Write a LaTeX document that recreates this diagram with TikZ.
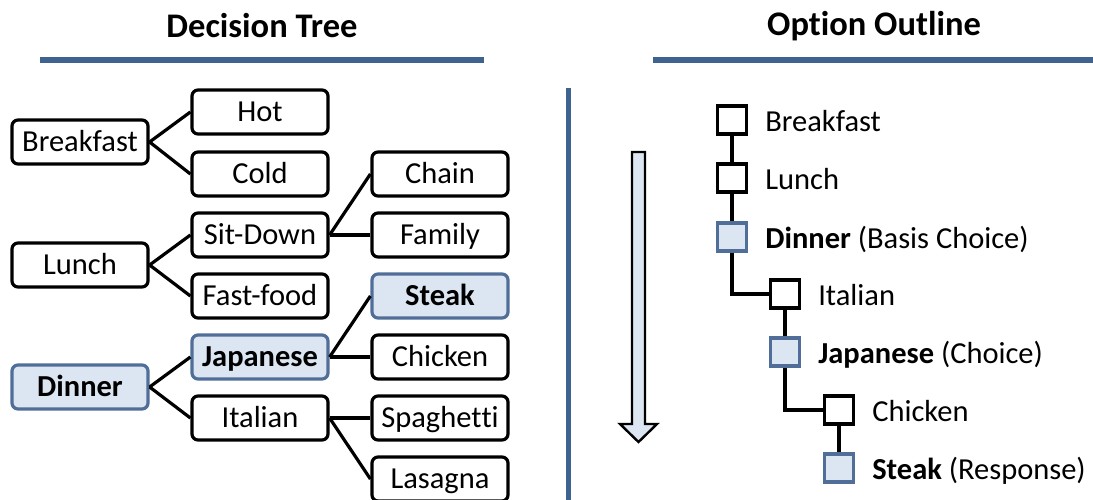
\documentclass[tikz,border=0pt]{standalone}
\usepackage{fontspec}
\setmainfont{Carlito}[Ligatures=NoCommon]
\definecolor{rule}{RGB}{63,99,145}
\definecolor{pale}{RGB}{220,230,242}
\definecolor{frame}{RGB}{80,110,152}
% break the t-i ligature of the font
\newcommand\nolig{\kern0pt{}}
\begin{document}
\begin{tikzpicture}[x=1pt,y=-1pt,
  box/.style={draw=black, line width=3.2pt, rounded corners=6pt, fill=white,
    minimum width=136pt, minimum height=44pt, inner sep=0pt,
    text height=19.5pt, text depth=0pt,
    font=\fontsize{30.5}{33}\selectfont},
  pick/.style={box, fill=pale, draw=frame, font=\fontsize{30.5}{33}\selectfont\bfseries},
  link/.style={line width=3.2pt},
  sq/.style={draw=black, line width=3.2pt, fill=white, minimum width=29pt,
    minimum height=28pt, inner sep=0pt},
  sqpick/.style={sq, fill=pale, draw=frame},
  lbl/.style={anchor=west, inner sep=0pt, text height=19.5pt, text depth=0pt,
    font=\fontsize{30.5}{33}\selectfont},
  head/.style={font=\fontsize{34.5}{37}\selectfont\bfseries, inner sep=0pt},
  bar/.style={line width=6pt, draw=rule}
]
\useasboundingbox (0,0) rectangle (1093,500);

% headings and rules
\node[head] (ht) at (262,26) {Decision Tree};
\node[head] (ho) at (874,26) {Opt\nolig ion Outline};
\draw[bar] (40,60) -- (484,60);
\draw[bar] (653,60) -- (1093,60);
\draw[line width=5pt, draw=rule] (568,88) -- (568,500);

% downward arrow
\draw[line width=2.4pt, fill=pale, line join=miter]
  (632,152) -- (645,152) -- (645,424) -- (657,424) -- (638.5,442)
  -- (620,424) -- (632,424) -- cycle;

% decision tree
\node[box] (breakfast) at (80,142) {Breakfast};
\node[box] (hot) at (260,112) {Hot};
\node[box] (cold) at (260,174) {Cold};
\node[box] (lunch) at (80,265) {Lunch};
\node[box] (sitdown) at (260,235) {Sit-Down};
\node[box] (fastfood) at (260,296) {Fast-food};
\node[box] (chain) at (440,174) {Chain};
\node[box] (family) at (440,235) {Family};
\node[pick] (dinner) at (80,387) {Dinner};
\node[pick] (japanese) at (260,357) {Japanese};
\node[box] (italian) at (260,418) {Italian};
\node[pick] (steak) at (440,296) {Steak};
\node[box] (chicken) at (440,357) {Chicken};
\node[box] (spaghetti) at (440,418) {Spaghet\nolig t\nolig i};
\node[box] (lasagna) at (440,479) {Lasagna};

\draw[link] (breakfast.east) -- (hot.west);
\draw[link] (breakfast.east) -- (cold.west);
\draw[link] (lunch.east) -- (sitdown.west);
\draw[link] (lunch.east) -- (fastfood.west);
\draw[link] (sitdown.east) -- (chain.west);
\draw[link] (sitdown.east) -- (family.west);
\draw[link] (dinner.east) -- (japanese.west);
\draw[link] (dinner.east) -- (italian.west);
\draw[link] (japanese.east) -- (steak.west);
\draw[link] (japanese.east) -- (chicken.west);
\draw[link] (italian.east) -- (spaghetti.west);
\draw[link] (italian.east) -- (lasagna.west);

% option outline
\node[sq] (ob) at (732,120) {};
\node[sq] (ol) at (732,178) {};
\node[sqpick] (od) at (732,237) {};
\node[sq] (oi) at (785,294) {};
\node[sqpick] (oj) at (785,352) {};
\node[sq] (oc) at (839,410) {};
\node[sqpick] (os) at (839,468) {};

\draw[link] (ob.south) -- (ol.north);
\draw[link] (ol.south) -- (od.north);
\draw[link] (od.south) |- (oi.west);
\draw[link] (oi.south) -- (oj.north);
\draw[link] (oj.south) |- (oc.west);
\draw[link] (oc.south) -- (os.north);

\node[lbl] (tb) at ([xshift=17pt,yshift=-2pt]ob.east) {Breakfast};
\node[lbl] (tl) at ([xshift=17pt,yshift=-2pt]ol.east) {Lunch};
\node[lbl] (td) at ([xshift=17pt,yshift=-2pt]od.east) {\textbf{Dinner} (Basis Choice)};
\node[lbl] (ti) at ([xshift=17pt,yshift=-2pt]oi.east) {Italian};
\node[lbl] (tj) at ([xshift=17pt,yshift=-2pt]oj.east) {\textbf{Japanese} (Choice)};
\node[lbl] (tc) at ([xshift=17pt,yshift=-2pt]oc.east) {Chicken};
\node[lbl] (ts) at ([xshift=17pt,yshift=-2pt]os.east) {\textbf{Steak} (Response)};
\end{tikzpicture}
\end{document}
